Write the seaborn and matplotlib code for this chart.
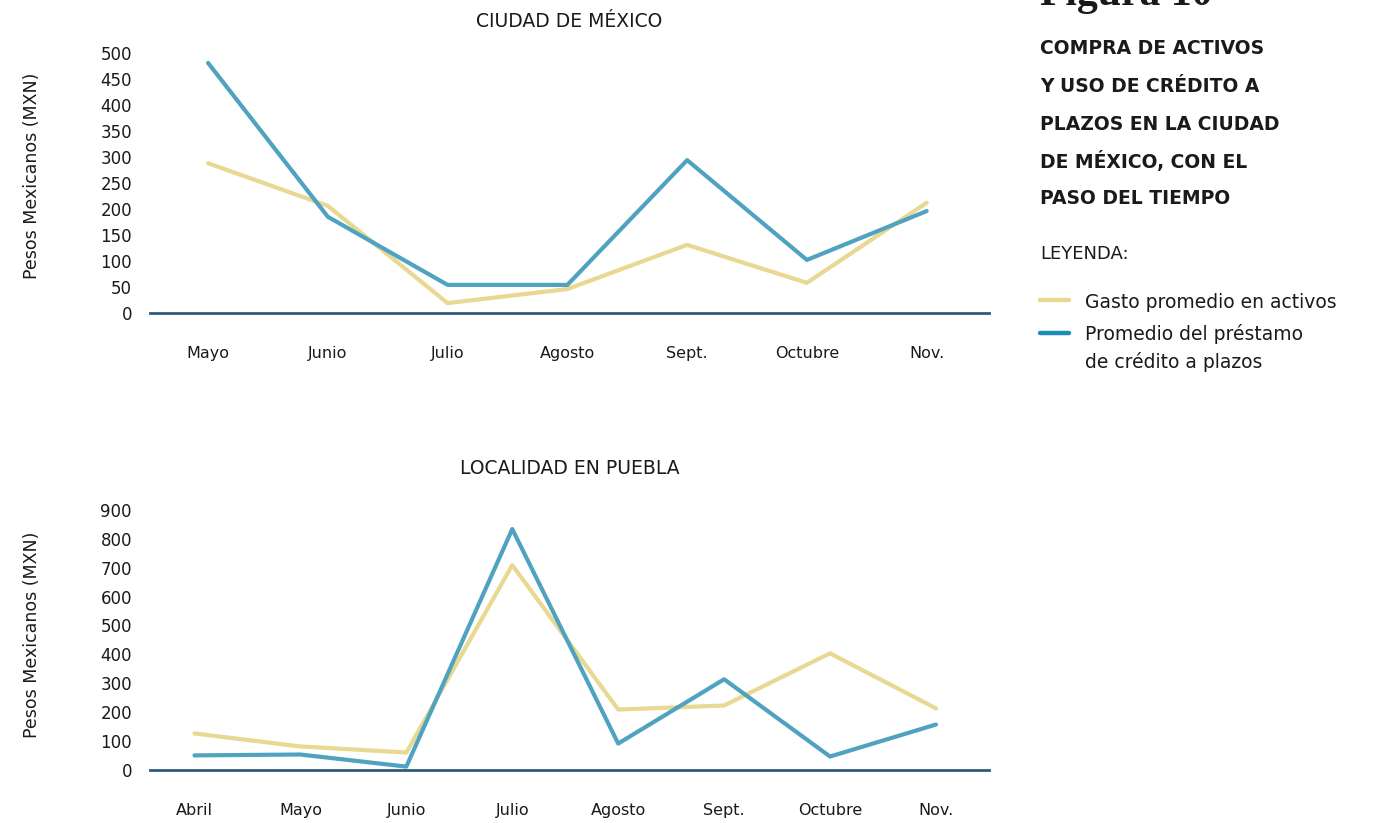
import pandas as pd
import matplotlib.pyplot as plt
import seaborn as sns
from matplotlib.lines import Line2D

# Datos (MXN)
cdmx_meses = ["Mayo", "Junio", "Julio", "Agosto", "Sept.", "Octubre", "Nov."]
cdmx_gasto = [288, 206, 19, 46, 131, 58, 212]
cdmx_prestamo = [481, 185, 54, 54, 294, 102, 196]

puebla_meses = ["Abril", "Mayo", "Junio", "Julio", "Agosto", "Sept.", "Octubre", "Nov."]
puebla_gasto = [125, 80, 59, 709, 208, 222, 403, 212]
puebla_prestamo = [49, 52, 10, 834, 90, 313, 45, 156]

serie_gasto = "Gasto promedio en activos"
serie_prestamo = "Promedio del préstamo\nde crédito a plazos"

AMARILLO = "#E8D892"
AZUL = "#4FA3C1"
AZUL_LEYENDA = "#1A8FB5"
EJE = "#2E5B78"
TEXTO = "#1a1a1a"

sns.set_style("white")
plt.rcParams["font.family"] = ["DejaVu Sans"]


def to_long(meses, gasto, prestamo):
    df = pd.DataFrame({"mes": meses, serie_gasto: gasto, serie_prestamo: prestamo})
    df["pos"] = range(len(meses))
    return df.melt(id_vars=["mes", "pos"], var_name="serie", value_name="mxn")


def draw_panel(ax, meses, gasto, prestamo, titulo, ymax, step, xlim, title_pad):
    df = to_long(meses, gasto, prestamo)
    sns.lineplot(data=df, x="pos", y="mxn", hue="serie",
                 palette={serie_gasto: AMARILLO, serie_prestamo: AZUL},
                 linewidth=3, legend=False, ax=ax, clip_on=False)
    ax.set_xlim(*xlim)
    ax.set_ylim(0, ymax)
    ax.set_yticks(range(0, ymax + 1, step))
    ax.set_xticks(range(len(meses)))
    ax.set_xticklabels(meses)
    ax.tick_params(axis="y", length=0, pad=13, labelsize=12, labelcolor=TEXTO)
    ax.tick_params(axis="x", length=0, pad=24, labelsize=11.5, labelcolor=TEXTO)
    for s in ["top", "right", "left"]:
        ax.spines[s].set_visible(False)
    ax.spines["bottom"].set_color(EJE)
    ax.spines["bottom"].set_linewidth(2)
    ax.set_xlabel("")
    ax.set_ylabel("Pesos Mexicanos (MXN)", fontsize=12.5, color=TEXTO)
    ax.set_title(titulo, fontsize=13.5, color=TEXTO, pad=title_pad)


fig = plt.figure(figsize=(13.99, 8.23), dpi=100)
ax1 = fig.add_axes([0.1072, 0.6197, 0.5997, 0.3159])
ax2 = fig.add_axes([0.1072, 0.0650, 0.5997, 0.3153])

draw_panel(ax1, cdmx_meses, cdmx_gasto, cdmx_prestamo, "CIUDAD DE MÉXICO",
           500, 50, (-0.485, 6.52), 19)
draw_panel(ax2, puebla_meses, puebla_gasto, puebla_prestamo, "LOCALIDAD EN PUEBLA",
           900, 100, (-0.42, 7.5), 26)
ax1.yaxis.set_label_coords(-0.130, 0.527)
ax2.yaxis.set_label_coords(-0.130, 0.52)

# Encabezado a la derecha
X0 = 1040 / 1399
fig.text(X0, 0.994, "Figura 10", fontsize=30, fontweight="bold",
         family=["Liberation Serif", "DejaVu Serif"], color=TEXTO, va="baseline")
titulo_lineas = ["COMPRA DE ACTIVOS", "Y USO DE CRÉDITO A", "PLAZOS EN LA CIUDAD",
                 "DE MÉXICO, CON EL", "PASO DEL TIEMPO"]
for i, linea in enumerate(titulo_lineas):
    fig.text(X0, 1 - (49 + 37.5 * i) / 823, linea, fontsize=13.5, fontweight="bold",
             color=TEXTO, va="center")
fig.text(X0, 1 - 254 / 823, "LEYENDA:", fontsize=13, color=TEXTO, va="center")

# Leyenda manual: clave alineada con la primera linea de cada etiqueta
claves = [(serie_gasto, AMARILLO, 300, 302), (serie_prestamo, AZUL_LEYENDA, 333, 348)]
for etiqueta, color, y_linea, y_texto in claves:
    fig.add_artist(Line2D([X0, 1069 / 1399], [1 - y_linea / 823] * 2, color=color,
                          linewidth=3.2, solid_capstyle="round",
                          transform=fig.transFigure))
    fig.text(1085 / 1399, 1 - y_texto / 823, etiqueta, fontsize=13.5, color=TEXTO,
             va="center", linespacing=1.45)

fig.savefig("out.png", dpi=100)
